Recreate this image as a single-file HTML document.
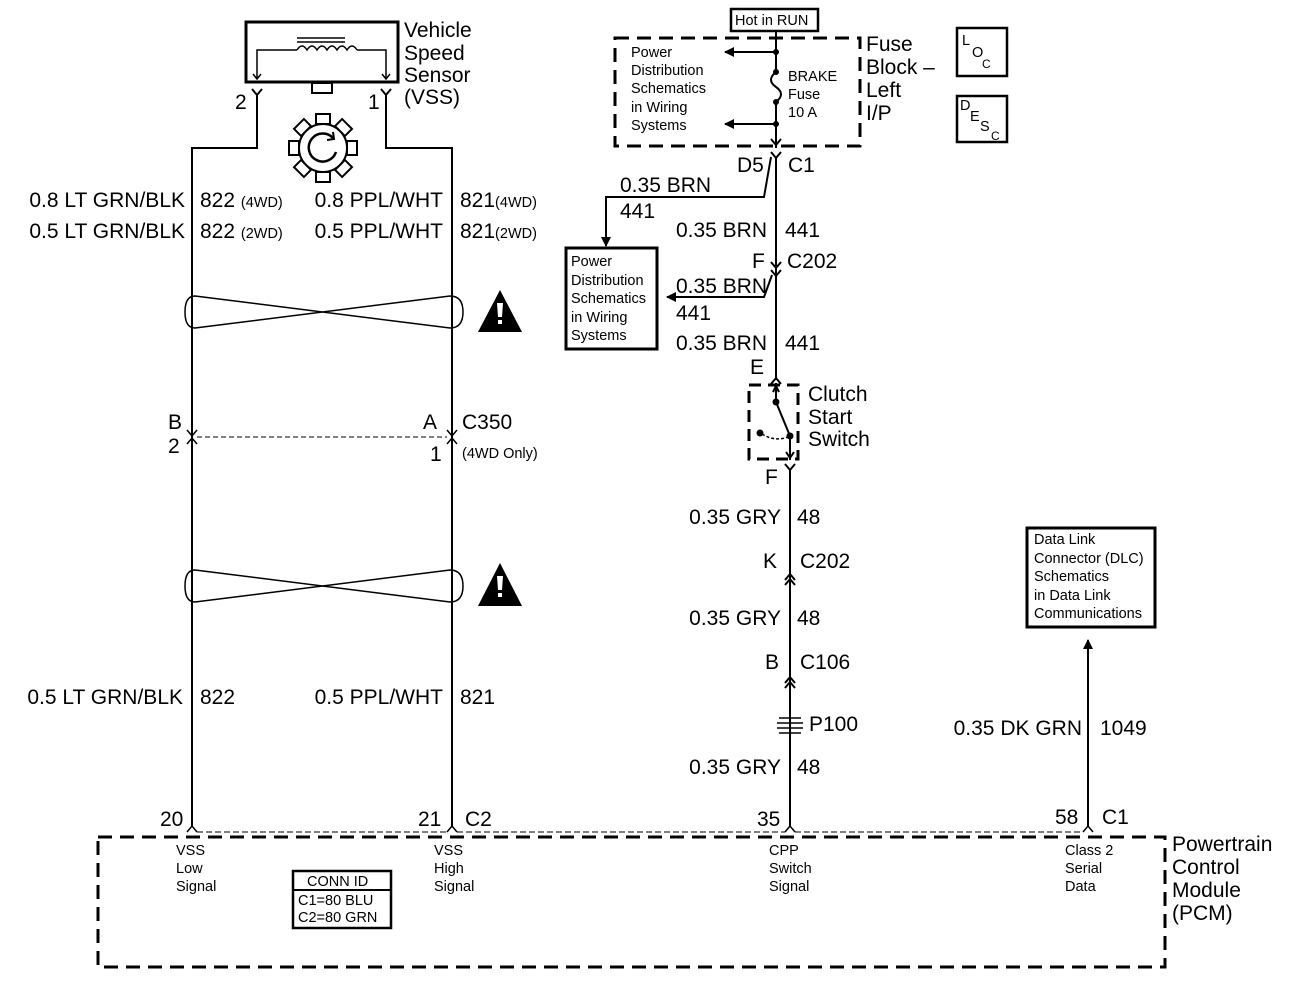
<!DOCTYPE html>
<html><head><meta charset="utf-8"><style>
body{margin:0;background:#fff}
svg{display:block}
text{font-family:"Liberation Sans",Arial,sans-serif;fill:#000}
.L{font-size:21px}
.S{font-size:14.5px}
.X{font-size:12px}
</style></head><body>
<svg width="1312" height="990" viewBox="0 0 1312 990" xmlns="http://www.w3.org/2000/svg">
<defs>
<marker id="ah" markerWidth="10" markerHeight="10" refX="9" refY="5" orient="auto" markerUnits="userSpaceOnUse"><path d="M0,0 L10,5 L0,10 Z" fill="#000"/></marker>
</defs>
<g stroke="#000" fill="none" stroke-width="2">
<!-- VSS -->
<rect x="246" y="22" width="152" height="60" stroke-width="3"/>
<path d="M257,78 V50 H297 M357,50 H386 V78" stroke-width="1.5"/>
<path d="M297,50 q5,-8 10,0 q5,-8 10,0 q5,-8 10,0 q5,-8 10,0 q5,-8 10,0 q5,-8 10,0" stroke-width="1.5"/>
<path d="M297,42 H345 M297,38 H345" stroke-width="1.5"/>
<path d="M253,74 L257,79 L261,74 M382,74 L386,79 L390,74" stroke-width="1.5"/>
<rect x="312" y="83" width="20" height="10"/>
<path d="M252,89 L257,95 L262,89 M257,95 V148 H192 V826"/>
<path d="M381,89 L386,95 L391,89 M386,95 V148 H452 V826"/>
<circle cx="323" cy="148" r="24"/>
<circle cx="323" cy="148" r="15" stroke-width="2"/>
<g stroke-width="2" fill="#fff">
<rect x="316" y="114" width="14" height="10" transform="rotate(0 323 148)"/>
<rect x="316" y="114" width="14" height="10" transform="rotate(45 323 148)"/>
<rect x="316" y="114" width="14" height="10" transform="rotate(90 323 148)"/>
<rect x="316" y="114" width="14" height="10" transform="rotate(135 323 148)"/>
<rect x="316" y="114" width="14" height="10" transform="rotate(180 323 148)"/>
<rect x="316" y="114" width="14" height="10" transform="rotate(225 323 148)"/>
<rect x="316" y="114" width="14" height="10" transform="rotate(270 323 148)"/>
<rect x="316" y="114" width="14" height="10" transform="rotate(315 323 148)"/>
</g>
<circle cx="323" cy="148" r="24" fill="#fff"/>
<path d="M333,138 A14,14 0 1 0 336,152" stroke-width="2.5"/>
<!-- twists -->
<path d="M195,296 L450,328 Q463,328 463,312 Q463,296 450,296 L195,328 Q185,328 185,312 Q185,296 195,296Z" stroke-width="1.5"/>
<path d="M195,570 L450,602 Q463,602 463,586 Q463,570 450,570 L195,602 Q185,602 185,586 Q185,570 195,570Z" stroke-width="1.5"/>
<!-- C350 -->
<path d="M187,430 l5,6 5,-6 M187,444 l5,-6 5,6 M447,430 l5,6 5,-6 M447,444 l5,-6 5,6" stroke-width="1.5"/>
<path d="M197,437 H447" stroke-width="1" stroke-dasharray="5,3"/>
<!-- bottom pins -->
<path d="M187,832 l5,-6 5,6 M447,832 l5,-6 5,6 M785,832 l5,-6 5,6 M1083,832 l5,-6 5,6" stroke-width="1.5"/>
<path d="M197,832 H447 M457,832 H785 M795,832 H1083" stroke-width="1" stroke-dasharray="6,3"/>
<rect x="98" y="837" width="1067" height="130" stroke-width="3" stroke-dasharray="14,8"/>
<!-- right column -->
<rect x="731" y="9" width="87" height="22" stroke-width="2.5"/>
<rect x="615" y="38" width="245" height="108" stroke-width="3" stroke-dasharray="14,8"/>
<path d="M776,31 V72 M776,102 V148"/>
<path d="M776,52 H725" marker-end="url(#ah)"/>
<path d="M776,124 H725" marker-end="url(#ah)"/>
<path d="M776,72 q-10,8 0,15 q10,7 0,15"/>
<path d="M771,139 l5,6 5,-6 M771,152 l5,6 5,-6 M776,158 V380"/>
<path d="M771,157 L764,197 H606 V246" marker-end="url(#ah)"/>
<rect x="566" y="248" width="91" height="101" stroke-width="3"/>
<path d="M771,262 l5,6 5,-6 M771,270 l5,6 5,-6"/>
<path d="M772,275 L764,297 H667" marker-end="url(#ah)"/>
<path d="M771,384 l5,-6 5,6"/>
<rect x="749" y="385" width="49" height="74" stroke-width="3" stroke-dasharray="12,7"/>
<path d="M776,383 V402 L790,436 V460 M773,392 l3,-6 3,6 M786,452 l4,6 4,-6"/>
<circle cx="776" cy="402" r="2.5" fill="#000"/><circle cx="790" cy="436" r="2.5" fill="#000"/><circle cx="760" cy="433" r="2.5" fill="#000"/>
<path d="M762,434 Q775,442 788,437" stroke-width="1.5" stroke-dasharray="3,2"/>
<path d="M785,464 l5,6 5,-6 M790,470 V826"/>
<path d="M785,580 l5,-6 5,6 M785,585 l5,-6 5,6 M785,683 l5,-6 5,6 M785,688 l5,-6 5,6"/>
<path d="M779,718 h22 M777,723 h26 M777,728 h26 M779,733 h22" stroke-width="1.5"/>
<path d="M1088,826 V640" marker-end="url(#ah)"/>
<rect x="1027" y="528" width="128" height="99" stroke-width="3"/>
<rect x="957" y="28" width="50" height="48" stroke-width="2.5"/>
<rect x="957" y="96" width="50" height="46" stroke-width="2.5"/>
<rect x="293" y="871" width="98" height="57" stroke-width="2.5"/>
<path d="M293,890 H391" stroke-width="2"/>
</g>
<g fill="#000">
<circle cx="776" cy="52" r="3"/><circle cx="776" cy="72" r="3"/><circle cx="776" cy="102" r="3"/><circle cx="776" cy="124" r="3"/>
<path d="M500,290 L522,332 H478 Z M500,563 L522,606 H478 Z"/>
</g>
<g fill="#fff"><path d="M497,303 h6 l-1,14 h-4z M498,320 h4 v4 h-4z"/><path d="M497,576 h6 l-1,14 h-4z M498,593 h4 v4 h-4z"/></g>
<path d="M333,132 l1,7 -7,1" stroke="#000" stroke-width="2" fill="none"/>
<!-- text -->
<text class="L" x="404" y="37">Vehicle</text>
<text class="L" x="404" y="60">Speed</text>
<text class="L" x="404" y="82">Sensor</text>
<text class="L" x="404" y="104">(VSS)</text>
<text class="L" x="235" y="109">2</text>
<text class="L" x="368" y="109">1</text>
<text class="L" x="185" y="207" text-anchor="end">0.8 LT GRN/BLK</text>
<text class="L" x="200" y="207">822 <tspan class="S">(4WD)</tspan></text>
<text class="L" x="443" y="207" text-anchor="end">0.8 PPL/WHT</text>
<text class="L" x="460" y="207">821<tspan class="S">(4WD)</tspan></text>
<text class="L" x="185" y="238" text-anchor="end">0.5 LT GRN/BLK</text>
<text class="L" x="200" y="238">822 <tspan class="S">(2WD)</tspan></text>
<text class="L" x="443" y="238" text-anchor="end">0.5 PPL/WHT</text>
<text class="L" x="460" y="238">821<tspan class="S">(2WD)</tspan></text>
<text class="L" x="168" y="429">B</text><text class="L" x="168" y="453">2</text>
<text class="L" x="423" y="429">A</text><text class="L" x="462" y="429">C350</text>
<text class="L" x="430" y="461">1</text><text class="S" x="462" y="458">(4WD Only)</text>
<text class="L" x="183" y="704" text-anchor="end">0.5 LT GRN/BLK</text>
<text class="L" x="200" y="704">822</text>
<text class="L" x="443" y="704" text-anchor="end">0.5 PPL/WHT</text>
<text class="L" x="460" y="704">821</text>
<text class="L" x="160" y="826">20</text>
<text class="L" x="418" y="826">21</text><text class="L" x="465" y="826">C2</text>
<text class="L" x="757" y="826">35</text>
<text class="L" x="1055" y="824">58</text><text class="L" x="1102" y="824">C1</text>
<text class="S" x="176" y="855">VSS</text><text class="S" x="176" y="873">Low</text><text class="S" x="176" y="891">Signal</text>
<text class="S" x="434" y="855">VSS</text><text class="S" x="434" y="873">High</text><text class="S" x="434" y="891">Signal</text>
<text class="S" x="769" y="855">CPP</text><text class="S" x="769" y="873">Switch</text><text class="S" x="769" y="891">Signal</text>
<text class="S" x="1065" y="855">Class 2</text><text class="S" x="1065" y="873">Serial</text><text class="S" x="1065" y="891">Data</text>
<text class="S" x="307" y="886">CONN ID</text>
<text class="S" x="298" y="905">C1=80 BLU</text>
<text class="S" x="298" y="922">C2=80 GRN</text>
<text class="L" x="1172" y="851">Powertrain</text>
<text class="L" x="1172" y="874">Control</text>
<text class="L" x="1172" y="897">Module</text>
<text class="L" x="1172" y="920">(PCM)</text>
<text class="S" x="735" y="25">Hot in RUN</text>
<text class="S" x="631" y="57">Power</text>
<text class="S" x="631" y="75">Distribution</text>
<text class="S" x="631" y="93">Schematics</text>
<text class="S" x="631" y="112">in Wiring</text>
<text class="S" x="631" y="130">Systems</text>
<text class="S" x="788" y="81">BRAKE</text>
<text class="S" x="788" y="99">Fuse</text>
<text class="S" x="788" y="117">10 A</text>
<text class="L" x="866" y="51">Fuse</text>
<text class="L" x="866" y="74">Block –</text>
<text class="L" x="866" y="97">Left</text>
<text class="L" x="866" y="120">I/P</text>
<text class="S" x="962" y="45">L</text><text class="S" x="972" y="57">O</text><text class="X" x="982" y="68">C</text>
<text class="S" x="960" y="110">D</text><text class="S" x="970" y="121">E</text><text class="S" x="980" y="131">S</text><text class="X" x="991" y="140">C</text>
<text class="L" x="737" y="172">D5</text><text class="L" x="788" y="172">C1</text>
<text class="L" x="620" y="192">0.35 BRN</text>
<text class="L" x="620" y="218">441</text>
<text class="L" x="767" y="237" text-anchor="end">0.35 BRN</text><text class="L" x="785" y="237">441</text>
<text class="L" x="752" y="268">F</text><text class="L" x="787" y="268">C202</text>
<text class="L" x="676" y="293">0.35 BRN</text>
<text class="L" x="676" y="320">441</text>
<text class="L" x="767" y="350" text-anchor="end">0.35 BRN</text><text class="L" x="785" y="350">441</text>
<text class="S" x="571" y="266">Power</text>
<text class="S" x="571" y="285">Distribution</text>
<text class="S" x="571" y="303">Schematics</text>
<text class="S" x="571" y="322">in Wiring</text>
<text class="S" x="571" y="340">Systems</text>
<text class="L" x="750" y="374">E</text>
<text class="L" x="808" y="401">Clutch</text>
<text class="L" x="808" y="424">Start</text>
<text class="L" x="808" y="446">Switch</text>
<text class="L" x="765" y="484">F</text>
<text class="L" x="781" y="524" text-anchor="end">0.35 GRY</text><text class="L" x="797" y="524">48</text>
<text class="L" x="763" y="568">K</text><text class="L" x="800" y="568">C202</text>
<text class="L" x="781" y="625" text-anchor="end">0.35 GRY</text><text class="L" x="797" y="625">48</text>
<text class="L" x="765" y="669">B</text><text class="L" x="800" y="669">C106</text>
<text class="L" x="809" y="731">P100</text>
<text class="L" x="781" y="774" text-anchor="end">0.35 GRY</text><text class="L" x="797" y="774">48</text>
<text class="L" x="1082" y="735" text-anchor="end">0.35 DK GRN</text><text class="L" x="1100" y="735">1049</text>
<text class="S" x="1034" y="544">Data Link</text>
<text class="S" x="1034" y="563">Connector (DLC)</text>
<text class="S" x="1034" y="581">Schematics</text>
<text class="S" x="1034" y="600">in Data Link</text>
<text class="S" x="1034" y="618">Communications</text>
</svg>
</body></html>
